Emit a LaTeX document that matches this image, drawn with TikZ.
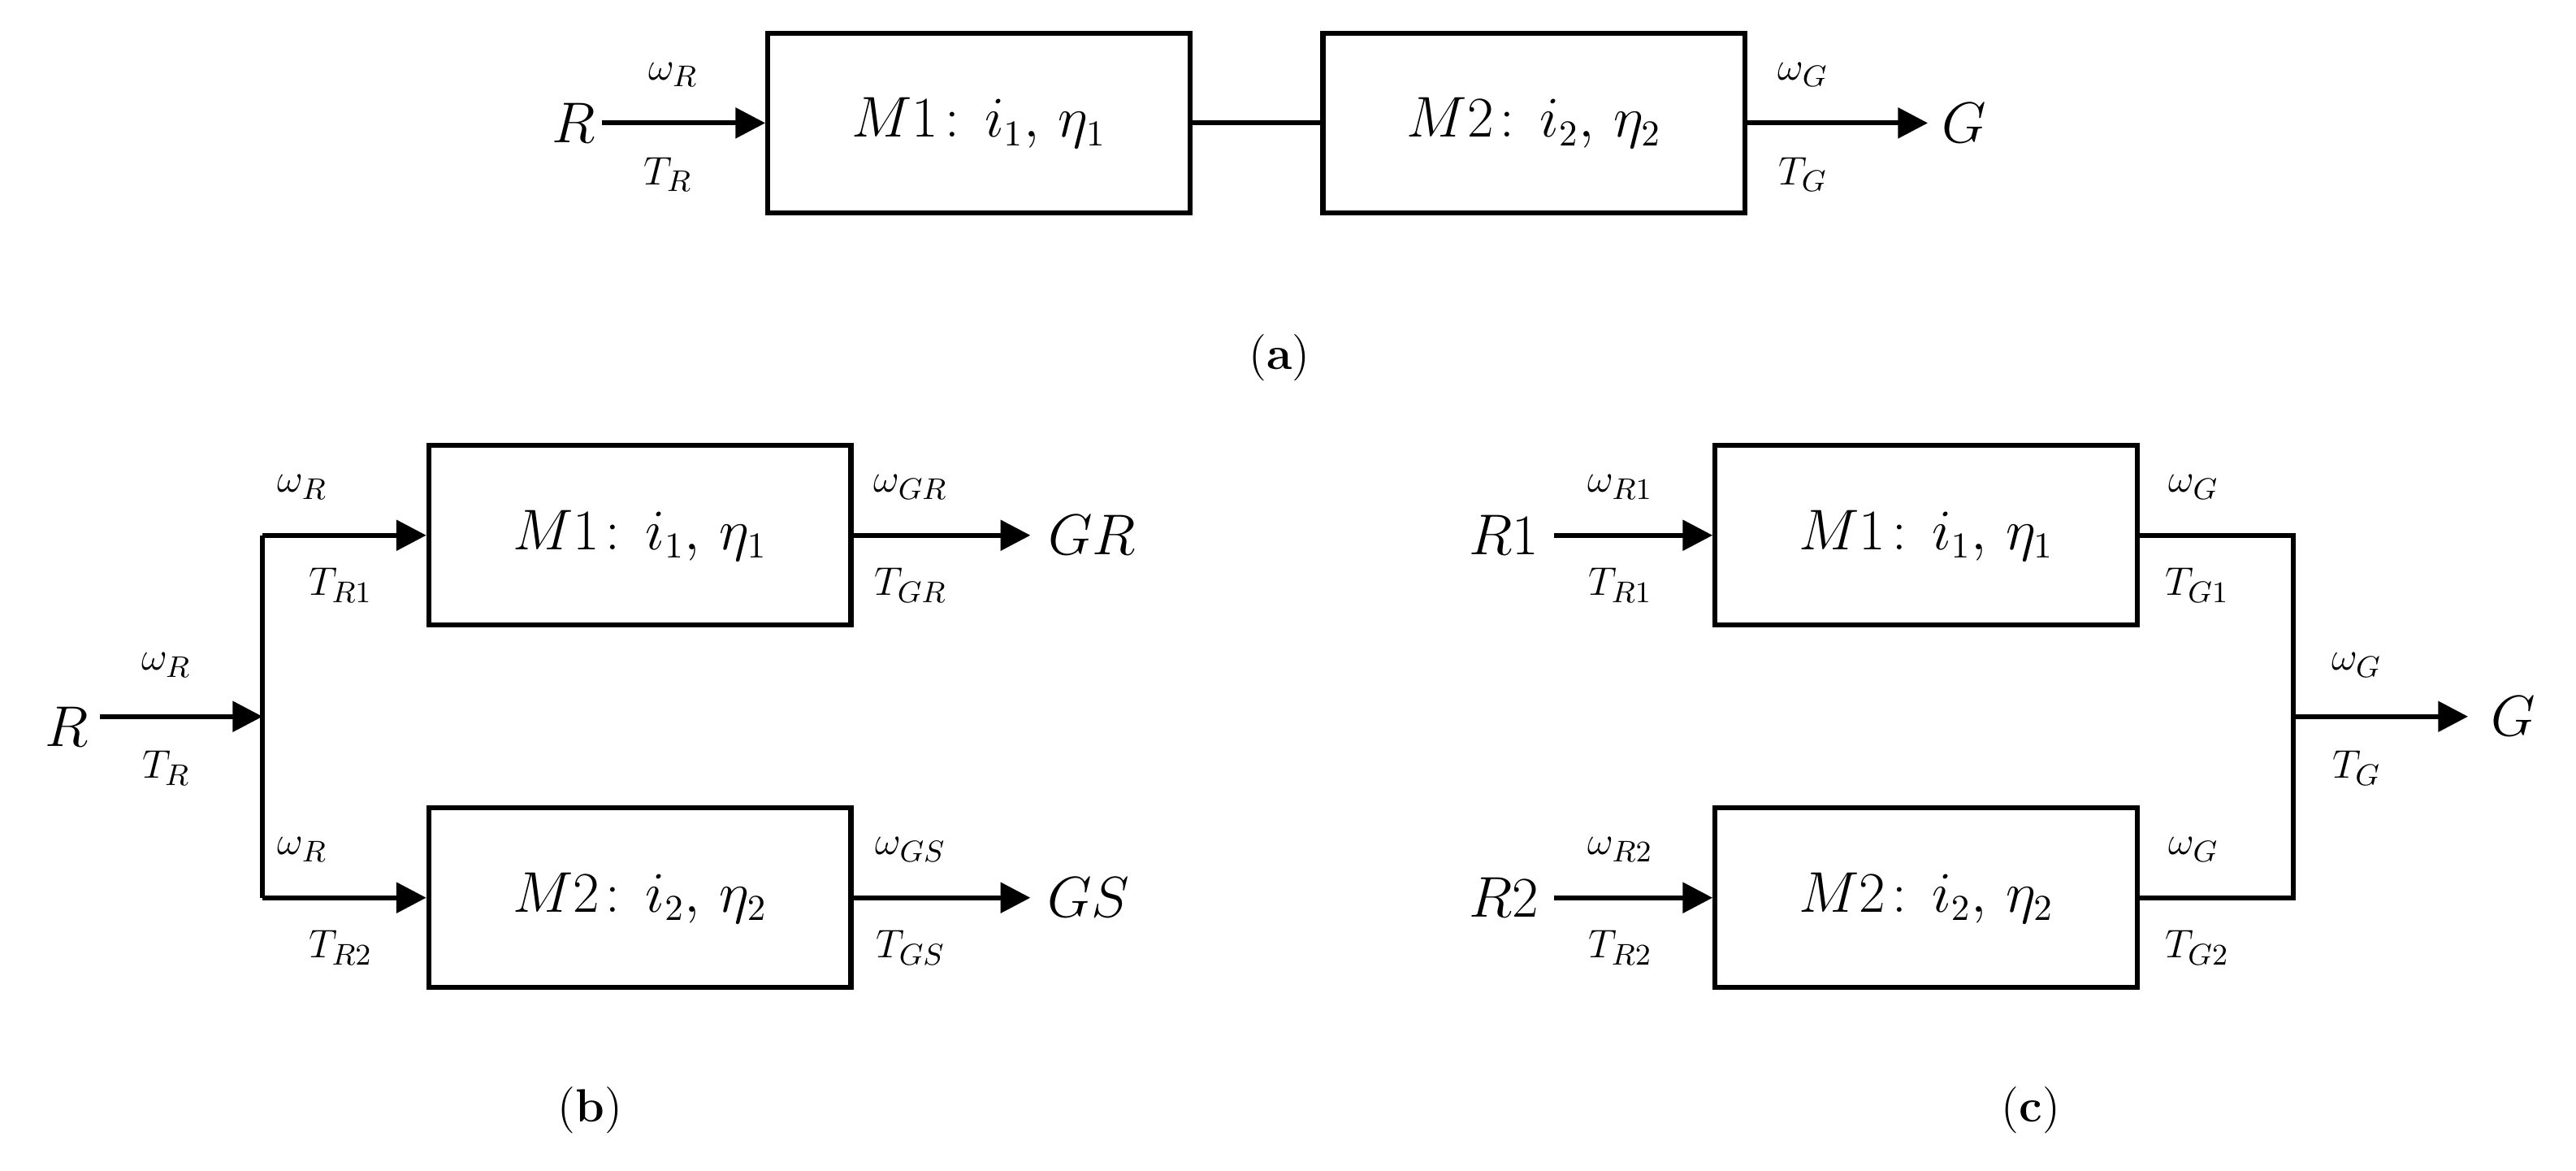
\documentclass[tikz,border=0pt]{standalone}
\usepackage{tikz}
\usetikzlibrary{
  arrows.meta,
  positioning,
}

\begin{document}
\begin{tikzpicture}[
  x=0.5pt, y=-0.5pt,
  block/.style={
    draw, line width=1.5pt,
    minimum width=127pt, minimum height=54pt,
    inner sep=0pt, font=\fontsize{16}{18}\selectfont,
  },
  sig/.style={
    inner sep=0pt, font=\fontsize{13}{15}\selectfont,
  },
  port/.style={
    inner sep=0pt, font=\fontsize{17}{19}\selectfont,
  },
  subcap/.style={
    inner sep=0pt, font=\fontsize{14}{16}\selectfont,
  },
  shaft/.style={
    line width=1.5pt,
  },
  flow/.style={
    line width=1.5pt,
    -{Triangle[length=9pt,width=9pt]},
  },
  ]
  \useasboundingbox (0,0) rectangle (1550,704);
  % (a) series
  \node [block] (a-m1) at (589,74) {$M1\!:\,i_1,\,\eta_1$};
  \node [block] (a-m2) at (923,74) {$M2\!:\,i_2,\,\eta_2$};
  \node [port] (a-r) at (345,74) {$R$};
  \node [port] (a-g) at (1182,74) {$G$};
  \coordinate (a-in) at (362,74);
  \coordinate (a-out) at (1160,74);
  \draw [flow] (a-in) -- (a-m1.west);
  \draw [shaft] (a-m1.east) -- (a-m2.west);
  \draw [flow] (a-m2.east) -- (a-out);
  \node [sig] (a-wr) at (405,45) {$\omega_R$};
  \node [sig] (a-tr) at (402,105) {$T_R$};
  \node [sig] (a-wg) at (1085,45) {$\omega_G$};
  \node [sig] (a-tg) at (1085,105) {$T_G$};
  \node [subcap] (a-cap) at (770,215) {(\textbf{a})};

  % (b) split
  \node [block] (b-m1) at (385,322) {$M1\!:\,i_1,\,\eta_1$};
  \node [block] (b-m2) at (385,540) {$M2\!:\,i_2,\,\eta_2$};
  \node [port] (b-r) at (40,437) {$R$};
  \node [port] (b-gr) at (657,322) {$GR$};
  \node [port] (b-gs) at (655,540) {$GS$};
  \coordinate (b-in) at (60,431);
  \coordinate (b-split) at (158,431);
  \coordinate (b-top) at (158,322);
  \coordinate (b-bot) at (158,540);
  \coordinate (b-out1) at (620,322);
  \coordinate (b-out2) at (620,540);
  \draw [flow] (b-in) -- (b-split);
  \draw [shaft] (b-top) -- (b-bot);
  \draw [flow] (b-top) -- (b-m1.west);
  \draw [flow] (b-bot) -- (b-m2.west);
  \draw [flow] (b-m1.east) -- (b-out1);
  \draw [flow] (b-m2.east) -- (b-out2);
  \node [sig] (b-wr) at (100,400) {$\omega_R$};
  \node [sig] (b-tr) at (100,462) {$T_R$};
  \node [sig] (b-wr1) at (182,293) {$\omega_R$};
  \node [sig] (b-tr1) at (205,352) {$T_{R1}$};
  \node [sig] (b-wr2) at (182,511) {$\omega_R$};
  \node [sig] (b-tr2) at (205,570) {$T_{R2}$};
  \node [sig] (b-wgr) at (548,293) {$\omega_{GR}$};
  \node [sig] (b-tgr) at (548,352) {$T_{GR}$};
  \node [sig] (b-wgs) at (548,511) {$\omega_{GS}$};
  \node [sig] (b-tgs) at (548,570) {$T_{GS}$};
  \node [subcap] (b-cap) at (355,668) {(\textbf{b})};

  % (c) merge
  \node [block] (c-m1) at (1159,322) {$M1\!:\,i_1,\,\eta_1$};
  \node [block] (c-m2) at (1159,540) {$M2\!:\,i_2,\,\eta_2$};
  \node [port] (c-r1) at (905,322) {$R1$};
  \node [port] (c-r2) at (905,540) {$R2$};
  \node [port] (c-g) at (1512,431) {$G$};
  \coordinate (c-in1) at (935,322);
  \coordinate (c-in2) at (935,540);
  \coordinate (c-top) at (1380,322);
  \coordinate (c-bot) at (1380,540);
  \coordinate (c-join) at (1380,431);
  \coordinate (c-out) at (1485,431);
  \draw [flow] (c-in1) -- (c-m1.west);
  \draw [flow] (c-in2) -- (c-m2.west);
  \draw [shaft] (c-m1.east) -- (c-top) -- (c-bot) -- (c-m2.east);
  \draw [flow] (c-join) -- (c-out);
  \node [sig] (c-wr1) at (975,293) {$\omega_{R1}$};
  \node [sig] (c-tr1) at (975,352) {$T_{R1}$};
  \node [sig] (c-wr2) at (975,511) {$\omega_{R2}$};
  \node [sig] (c-tr2) at (975,570) {$T_{R2}$};
  \node [sig] (c-wg1) at (1320,293) {$\omega_G$};
  \node [sig] (c-tg1) at (1322,352) {$T_{G1}$};
  \node [sig] (c-wg2) at (1320,511) {$\omega_G$};
  \node [sig] (c-tg2) at (1322,570) {$T_{G2}$};
  \node [sig] (c-wg) at (1418,400) {$\omega_G$};
  \node [sig] (c-tg) at (1418,462) {$T_G$};
  \node [subcap] (c-cap) at (1222,668) {(\textbf{c})};
\end{tikzpicture}
\end{document}
